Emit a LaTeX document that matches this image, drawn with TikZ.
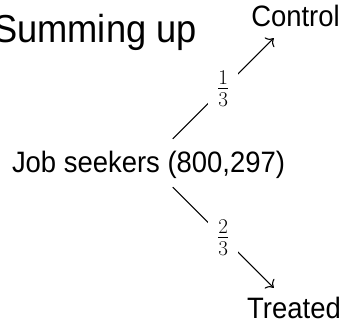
\documentclass[tikz,border=0pt]{standalone}
\usepackage{fix-cm}
\usepackage{fontspec}
\setmainfont{Liberation Sans}[FakeStretch=0.93]
\usetikzlibrary{arrows.meta}
\begin{document}
\begin{tikzpicture}[x=1pt,y=-1pt,
  txt/.style={font=\fontsize{29.5}{34}\selectfont, inner sep=6pt},
  ttl/.style={font=\fontsize{39}{45}\selectfont, inner sep=0pt, anchor=base west},
  frac/.style={font=\fontsize{30}{34}\selectfont, fill=white, inner xsep=9pt, inner ysep=2pt},
  conn/.style={line width=1.1pt, -{To[scale=1.6]}}]
\useasboundingbox (0,0) rectangle (344,323);
\node[ttl] (title) at (-7,43) {Summing up};
\node[txt, text height=27pt, text depth=9pt] (job) at (148.5,163) {Job seekers (800,297)};
\node[txt, text height=26pt, text depth=5pt] (ctl) at (295.5,16.5) {Control};
\node[txt, text height=24pt, text depth=4pt] (trt) at (294,308) {Treated};
\draw[conn] (job) -- node[frac] (f1) {$\frac{1}{3}$} (ctl);
\draw[conn] (job) -- node[frac] (f2) {$\frac{2}{3}$} (trt);
\end{tikzpicture}
\end{document}
